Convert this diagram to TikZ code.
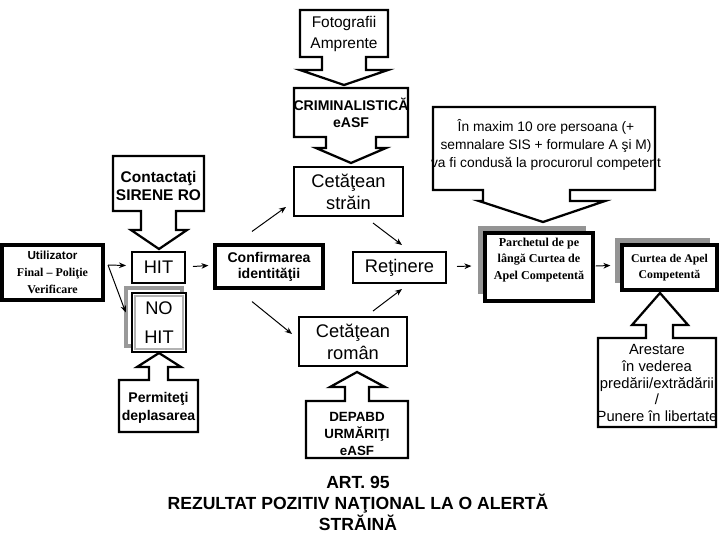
\documentclass[tikz,border=0pt]{standalone}
\usepackage{fontspec}
\setmainfont{Liberation Sans}
\newfontfamily\tnr{Liberation Serif}
\usetikzlibrary{arrows.meta,calc}
\tikzset{
  box/.style={draw, line width=1.4pt, fill=white, inner sep=0pt, align=center},
  tbox/.style={box, line width=2.2pt},
  arr/.style={-{Stealth[length=5pt,width=4pt]}, line width=0.7pt},
  call/.style={draw, line width=1.6pt, fill=white, line join=miter},
  lbl/.style={align=center, inner sep=0pt},
  shadowfill/.style={fill=black!42, draw=none},
}
\begin{document}
\begin{tikzpicture}[x=0.025cm, y=-0.025cm]
\useasboundingbox (0,0) rectangle (720,540);

% ---- down-pointing callouts
\draw[call] (300,10) -- (388,10) -- (388,57) -- (366,57) -- (366,70) -- (388,70) -- (344,85) -- (300,70) -- (322,70) -- (322,57) -- (300,57) -- cycle;
\node[lbl, font=\fontsize{11}{15}\selectfont] (foto) at (344,34) {Fotografii\\Amprente};

\draw[call] (294,88) -- (408,88) -- (408,137) -- (376,137) -- (376,148) -- (386,148) -- (351,163) -- (316,148) -- (326,148) -- (326,137) -- (294,137) -- cycle;
\node[lbl, font=\bfseries\fontsize{10}{12}\selectfont] (crim) at (351,113) {CRIMINALISTICĂ\\eASF};

\draw[call] (113,156) -- (204,156) -- (204,211) -- (176,211) -- (176,230) -- (187,230) -- (159,249) -- (131,230) -- (141,230) -- (141,211) -- (113,211) -- cycle;
\node[lbl, font=\bfseries\fontsize{11}{13}\selectfont] (contact) at (158.5,186) {Contactaţi\\SIRENE RO};

\draw[call] (433,107) -- (655,107) -- (655,190) -- (570,190) -- (570,201) -- (605,201) -- (543,222) -- (479,201) -- (483,201) -- (483,190) -- (433,190) -- cycle;
\node[lbl, font=\fontsize{9.8}{12.8}\selectfont] (maxim) at (546,145) {În maxim 10 ore persoana (+\\semnalare SIS + formulare A şi M)\\va fi condusă la procurorul competent};

% ---- up-pointing callouts
\draw[call] (119,432) -- (119,380) -- (149,380) -- (149,367) -- (137,367) -- (159,353) -- (181,367) -- (168,367) -- (168,380) -- (198,380) -- (198,432) -- cycle;
\node[lbl, font=\bfseries\fontsize{10}{12.7}\selectfont] (permit) at (158.5,408) {Permiteţi\\deplasarea};

\draw[call] (306,458) -- (306,401) -- (345,401) -- (345,387) -- (330,387) -- (357,372) -- (385,387) -- (369,387) -- (369,401) -- (408,401) -- (408,458) -- cycle;
\node[lbl, font=\bfseries\fontsize{9.5}{12.2}\selectfont] (depabd) at (357,434) {DEPABD\\URMĂRIŢI\\eASF};

\draw[call] (598,427) -- (598,338) -- (646,338) -- (646,325) -- (632,325) -- (660,293) -- (688,325) -- (673,325) -- (673,338) -- (716,338) -- (716,427) -- cycle;
\node[lbl, font=\fontsize{10.5}{11.8}\selectfont] (arest) at (657,383) {Arestare\\în vederea\\predării/extrădării\\/\\Punere în libertate};

% ---- boxes
\node[tbox, minimum width=2.525cm, minimum height=1.375cm] (util) at (52.5,272.5)
  {{\bfseries\fontsize{8.3}{11.5}\selectfont Utilizator}\\{\tnr\bfseries\fontsize{8.5}{11.5}\selectfont Final – Poliţie}\\{\tnr\bfseries\fontsize{8.5}{11.5}\selectfont Verificare}};
\node[box, minimum width=1.325cm, minimum height=0.775cm, font=\fontsize{13}{15}\selectfont] (hit) at (158.5,267.5) {HIT};

\draw[draw=black!40, line width=2.6pt] (126,288) rectangle (182,346);
\node[box, line width=1.8pt, minimum width=1.35cm, minimum height=1.475cm, font=\fontsize{13}{20.5}\selectfont] (nohit) at (159,322.5) {NO\\HIT};
\draw[draw=black!30, line width=1.2pt] (135,296) rectangle (183,349);

\node[tbox, minimum width=2.7cm, minimum height=1.075cm, font=\bfseries\fontsize{10}{11.5}\selectfont] (conf) at (269,266.5) {Confirmarea\\identităţii};
\node[box, minimum width=2.725cm, minimum height=1.225cm, font=\fontsize{13}{15.5}\selectfont] (strain) at (348.5,191.5) {Cetăţean\\străin};
\node[box, minimum width=2.7cm, minimum height=1.225cm, font=\fontsize{13}{15.5}\selectfont] (roman) at (353,341.5) {Cetăţean\\român};
\node[box, minimum width=2.325cm, minimum height=0.775cm, font=\fontsize{13}{15}\selectfont] (ret) at (399.5,267.5) {Reţinere};

\fill[shadowfill] (478,226) rectangle (586,294);
\node[tbox, minimum width=2.7cm, minimum height=1.7cm] (parch) at (539,267) {};
\node[lbl, font=\tnr\bfseries\fontsize{8.6}{11.5}\selectfont] (parchT) at (539,260) {Parchetul de pe\\lângă Curtea de\\Apel Competentă};

\fill[shadowfill] (615,238) rectangle (710,283);
\node[tbox, minimum width=2.375cm, minimum height=1.125cm, font=\tnr\bfseries\fontsize{8.4}{11.5}\selectfont] (curtea) at (669.5,267.5) {Curtea de Apel\\Competentă};

% ---- connectors
\coordinate (fork) at (108,265);
\draw[arr] (fork) -- ([shift={(-5,-2)}]hit.west);
\draw[arr] (fork) -- ([shift={(-5,-10)}]nohit.west);
\draw[arr] ([shift={(7,-1)}]hit.east) -- ([shift={(-5,-1)}]conf.west);
\draw[arr] ([shift={(-17,-12)}]conf.north) -- ([shift={(-7,-10)}]strain.south west);
\draw[arr] ([shift={(-17,12)}]conf.south) -- ([shift={(-6,18)}]roman.north west);
\draw[arr] ([shift={(-31,6)}]strain.south east) -- ([shift={(2.5,-6)}]ret.north);
\draw[arr] ([shift={(20,-5)}]roman.north) -- ([shift={(2.5,5)}]ret.south);
\draw[arr] ([shift={(10,-1)}]ret.east) -- ([shift={(-12,-1)}]parch.west);
\draw[arr] ([shift={(1,-1)}]parch.east) -- ([shift={(-10,-2)}]curtea.west);

% ---- title
\node[lbl, font=\bfseries\fontsize{12.5}{15.2}\selectfont] (title) at (358,503.5) {ART. 95\\REZULTAT POZITIV NAŢIONAL LA O ALERTĂ\\STRĂINĂ};
\end{tikzpicture}
\end{document}
